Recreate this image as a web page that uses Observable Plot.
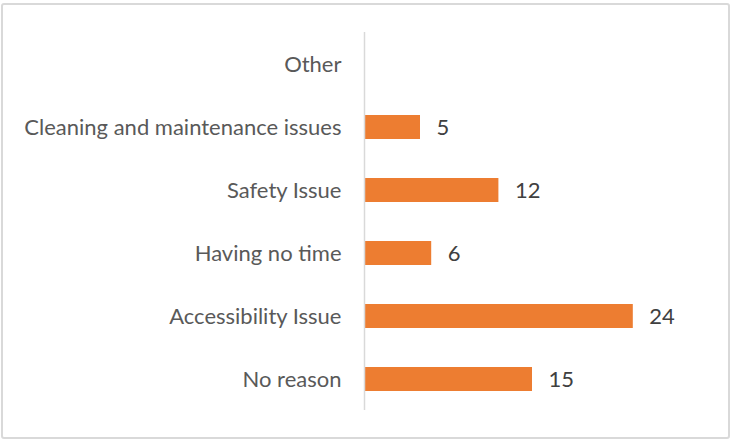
<!DOCTYPE html>
<html>
<head>
<meta charset="utf-8">
<script src="https://cdn.jsdelivr.net/npm/d3@7"></script>
<script src="https://cdn.jsdelivr.net/npm/@observablehq/plot@0.6"></script>
<style>
  html, body { margin: 0; padding: 0; background: #fff; }
  #wrap { position: relative; width: 731px; height: 441px; }
  #border { position: absolute; left: 1px; top: 3px; width: 725px; height: 432px;
            border: 2px solid #d9d9d9; border-radius: 3px; pointer-events: none; }
  #chart svg { display: block; }
</style>
</head>
<body>
<div id="wrap"><div id="chart"></div><div id="border"></div></div>
<script>
const categories = ["Other", "Cleaning and maintenance issues", "Safety Issue", "Having no time", "Accessibility Issue", "No reason"];
const values = [null, 5, 12, 6, 24, 15];

const data = categories.map((c, i) => ({category: c, value: values[i]}));
const font = "Lato, 'Open Sans', sans-serif";

const chart = Plot.plot({
  width: 731,
  height: 441,
  marginLeft: 364,
  marginRight: 31,
  marginTop: 32,
  marginBottom: 31,
  style: {fontFamily: font, fontSize: "22px", color: "#595959", background: "#fff"},
  x: {domain: [0, 30], axis: null},
  y: {domain: categories, paddingInner: 0.62, paddingOuter: 0.31, label: null},
  marks: [
    Plot.barX(data.filter(d => d.value != null), {x: "value", y: "category", fill: "#ED7D31", insetTop: 0, insetBottom: 0}),
    Plot.ruleX([0], {stroke: "#d9d9d9", strokeWidth: 1.5}),
    Plot.axisY({tickSize: 0, tickPadding: 23, fontSize: 22, fill: "#595959", label: null}),
    Plot.text(data.filter(d => d.value != null), {x: "value", y: "category", text: d => String(d.value), textAnchor: "start", dx: 16, fontSize: 22, fill: "#404040"})
  ]
});
document.getElementById("chart").appendChild(chart);
</script>
</body>
</html>
